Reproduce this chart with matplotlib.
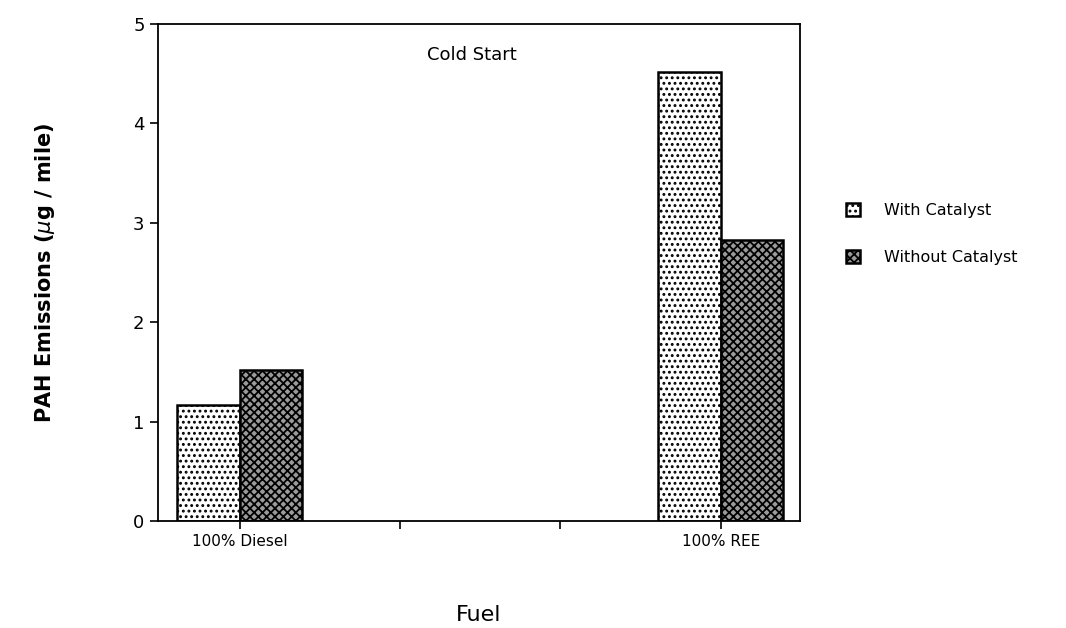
import matplotlib.pyplot as plt
import numpy as np

# PAH emissions, cold start (ug / mile)
fuels = ['100% Diesel', '100% REE']
with_cat = [1.17, 4.52]
without_cat = [1.52, 2.83]
x_pos = [0, 3]

plt.rcParams['hatch.linewidth'] = 1.3
fig = plt.figure(figsize=(10.66, 6.28), dpi=100)
ax = fig.add_axes([0.148, 0.170, 0.602, 0.792])

w = 0.39
x = np.array(x_pos)
b1 = ax.bar(x - w / 2, with_cat, w, color='white', edgecolor='black',
            hatch='...', linewidth=1.8, label='With Catalyst')
b2 = ax.bar(x + w / 2, without_cat, w, color='#9a9a9a', edgecolor='black',
            hatch='xxxx', linewidth=1.8, label='Without Catalyst')

ax.set_xlim(-0.51, 3.49)
ax.set_ylim(0, 5)
ax.set_yticks([0, 1, 2, 3, 4, 5])
ax.set_xticks([0, 1, 2, 3])
ax.set_xticklabels([fuels[0], '', '', fuels[1]])
ax.tick_params(axis='both', labelsize=11, direction='out', length=6, width=1.2)
ax.tick_params(axis='y', labelsize=13)
for s in ax.spines.values():
    s.set_linewidth(1.3)

ax.text(0.49, 0.955, 'Cold Start', transform=ax.transAxes, ha='center', va='top', fontsize=13)
ax.set_ylabel('PAH Emissions ($\\mu$g / mile)', fontsize=15, fontweight='bold', labelpad=55)
ax.set_xlabel('Fuel', fontsize=16, labelpad=40)

ax.legend(loc='center left', bbox_to_anchor=(1.05, 0.578), frameon=False, fontsize=11.5,
          handlelength=0.9, handleheight=0.9, labelspacing=2.0, handletextpad=1.5)

fig.savefig('out.png', dpi=100)
